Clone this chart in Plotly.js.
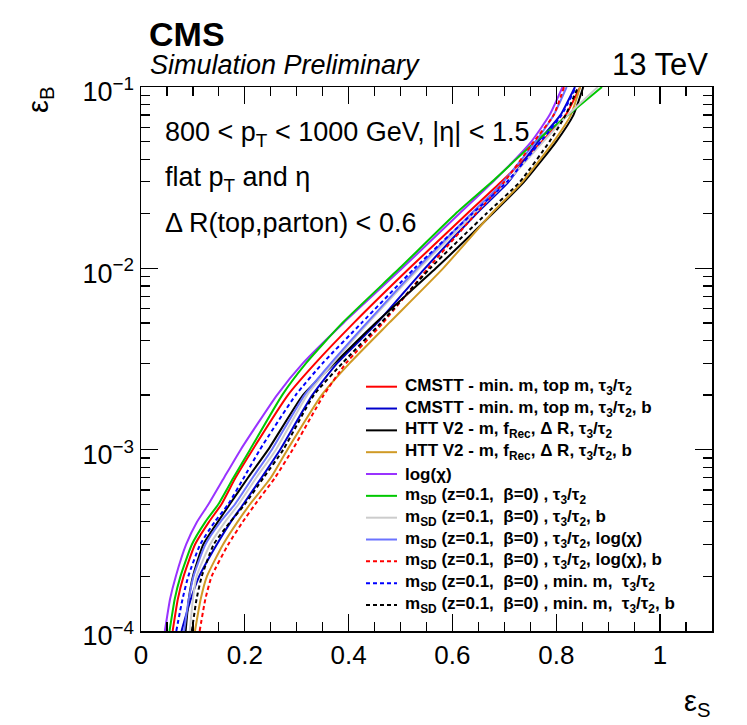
<!DOCTYPE html>
<html><head><meta charset="utf-8">
<script src="https://cdn.plot.ly/plotly-3.0.1.min.js"></script>
<style>html,body{margin:0;padding:0;background:#fff}</style>
</head><body><div id="chart" style="width:747px;height:725px"></div>
<script>
// Background efficiency levels (epsilon_B) at which the signal efficiency was read
const effB = [1e-4, 1.5e-4, 2e-4, 3e-4, 4e-4, 5e-4, 7e-4, 1e-3, 2e-3, 3e-3, 5e-3, 1e-2, 2e-2, 3e-2, 5e-2, 7e-2, 1e-1];
// Signal efficiency (epsilon_S) for each tagger
const cmstt      = [0.061, 0.071, 0.082, 0.104, 0.131, 0.155, 0.182, 0.215, 0.283, 0.336, 0.410, 0.517, 0.628, 0.694, 0.772, 0.818, 0.846];
const cmsttB     = [0.078, 0.096, 0.112, 0.146, 0.173, 0.197, 0.232, 0.268, 0.330, 0.378, 0.455, 0.547, 0.646, 0.708, 0.765, 0.808, 0.836];
const httV2      = [0.086, 0.092, 0.100, 0.120, 0.148, 0.171, 0.206, 0.245, 0.312, 0.373, 0.452, 0.568, 0.677, 0.738, 0.800, 0.833, 0.852];
const httV2B     = [0.104, 0.115, 0.127, 0.158, 0.186, 0.210, 0.250, 0.282, 0.348, 0.402, 0.478, 0.582, 0.675, 0.735, 0.795, 0.828, 0.846];
const logChi     = [0.046, 0.056, 0.067, 0.087, 0.108, 0.130, 0.160, 0.192, 0.262, 0.312, 0.390, 0.503, 0.613, 0.678, 0.752, 0.787, 0.812];
const msdTau     = [0.055, 0.065, 0.076, 0.098, 0.124, 0.149, 0.178, 0.210, 0.272, 0.318, 0.388, 0.498, 0.606, 0.676, 0.760, 0.823, 0.888];
const msdTauB    = [0.094, 0.100, 0.107, 0.133, 0.162, 0.188, 0.222, 0.260, 0.320, 0.370, 0.438, 0.536, 0.642, 0.705, 0.775, 0.822, 0.880];
const msdTauChi  = [0.083, 0.092, 0.101, 0.124, 0.153, 0.181, 0.215, 0.252, 0.315, 0.366, 0.435, 0.532, 0.636, 0.698, 0.760, 0.795, 0.820];
const msdTauChiB = [0.113, 0.124, 0.136, 0.168, 0.196, 0.220, 0.258, 0.292, 0.352, 0.395, 0.466, 0.553, 0.645, 0.700, 0.757, 0.795, 0.815];
const msdMinTau  = [0.068, 0.080, 0.091, 0.114, 0.142, 0.168, 0.198, 0.229, 0.298, 0.350, 0.425, 0.527, 0.638, 0.705, 0.770, 0.810, 0.838];
const msdMinTauB = [0.098, 0.107, 0.117, 0.140, 0.172, 0.200, 0.236, 0.274, 0.333, 0.388, 0.462, 0.557, 0.665, 0.730, 0.787, 0.818, 0.842];

const seriesNames = [
  "CMSTT - min. m, top m, τ<sub>3</sub>/τ<sub>2</sub>",
  "CMSTT - min. m, top m, τ<sub>3</sub>/τ<sub>2</sub>, b",
  "HTT V2 - m, f<sub>Rec</sub>, Δ R, τ<sub>3</sub>/τ<sub>2</sub>",
  "HTT V2 - m, f<sub>Rec</sub>, Δ R, τ<sub>3</sub>/τ<sub>2</sub>, b",
  "log(χ)",
  "m<sub>SD</sub> (z=0.1,  β=0) , τ<sub>3</sub>/τ<sub>2</sub>",
  "m<sub>SD</sub> (z=0.1,  β=0) , τ<sub>3</sub>/τ<sub>2</sub>, b",
  "m<sub>SD</sub> (z=0.1,  β=0) , τ<sub>3</sub>/τ<sub>2</sub>, log(χ)",
  "m<sub>SD</sub> (z=0.1,  β=0) , τ<sub>3</sub>/τ<sub>2</sub>, log(χ), b",
  "m<sub>SD</sub> (z=0.1,  β=0) , min. m,  τ<sub>3</sub>/τ<sub>2</sub>",
  "m<sub>SD</sub> (z=0.1,  β=0) , min. m,  τ<sub>3</sub>/τ<sub>2</sub>, b"
];
const seriesData = [cmstt, cmsttB, httV2, httV2B, logChi, msdTau, msdTauB, msdTauChi, msdTauChiB, msdMinTau, msdMinTauB];

const xTickVals = [0, 0.2, 0.4, 0.6, 0.8, 1];
const xTickText = ["0", "0.2", "0.4", "0.6", "0.8", "1"];
const yTickVals = [1e-4, 1e-3, 1e-2, 1e-1];
const yTickText = ["10<sup>−4</sup>", "10<sup>−3</sup>", "10<sup>−2</sup>", "10<sup>−1</sup>"];
const yMinorVals = [];
[1e-4, 1e-3, 1e-2].forEach(d => { for (let k = 2; k <= 9; k++) yMinorVals.push(k * d); });

// styles
const colors = ["#ff0000", "#0000cc", "#000000", "#d09a25", "#9933ff", "#00c800", "#cccccc", "#6b73ff", "#ff0000", "#0000ff", "#000000"];
const dashes = ["solid", "solid", "solid", "solid", "solid", "solid", "solid", "solid", "4px,3px", "4px,3px", "4px,3px"];

const W = 747, H = 725, L = 141, R = 35, T = 87, B = 94;
const pw = W - L - R, ph = H - T - B;
const px2x = p => (p - L) / pw;
const py2y = p => (H - B - p) / ph;

const traces = seriesData.map((xs, i) => ({
  x: xs, y: effB, type: "scatter", mode: "lines", name: seriesNames[i],
  line: {color: colors[i], width: 2, dash: dashes[i], shape: "spline", smoothing: 0.5},
  showlegend: false, hoverinfo: "skip"
}));

const font = "Liberation Sans, Arial, Helvetica, sans-serif";
const annotations = [];
const shapes = [];
function ann(text, px, py, size, opts) {
  annotations.push(Object.assign({
    text: text, xref: "paper", yref: "paper", x: px2x(px), y: py2y(py),
    xanchor: "left", yanchor: "middle", showarrow: false,
    font: {family: font, size: size, color: "#000"}
  }, opts || {}));
}
ann("CMS", 147, 34, 34, {font: {family: font, size: 34, color: "#000", weight: "bold"}});
ann("<i>Simulation Preliminary</i>", 148, 65, 27);
ann("13 TeV", 710, 64, 31, {xanchor: "right"});
ann("800 &lt; p<sub>T</sub> &lt; 1000 GeV, |η| &lt; 1.5", 163, 134, 27);
ann("flat p<sub>T</sub> and η", 163, 179, 27);
ann("Δ R(top,parton) &lt; 0.6", 163, 223, 27);
ann("ε<sub>B</sub>", 40, 100, 29, {xanchor: "center", textangle: -90});
ann("ε<sub>S</sub>", 697, 703, 29, {xanchor: "center"});

// legend drawn by hand to match the reference row spacing
const legTop = 386.7, legStep = 21.83;
seriesNames.forEach((nm, i) => {
  const py = legTop + i * legStep;
  shapes.push({type: "line", xref: "paper", yref: "paper",
    x0: px2x(366), x1: px2x(397), y0: py2y(py), y1: py2y(py),
    line: {color: colors[i], width: 2, dash: dashes[i]}});
  ann(nm, 403, py, 17, {font: {family: font, size: 17, color: "#000", weight: "bold"}});
});

const layout = {
  width: W, height: H, autosize: false,
  margin: {l: L, r: R, t: T, b: B, pad: 0},
  paper_bgcolor: "#fff", plot_bgcolor: "#fff",
  showlegend: false,
  font: {family: font, color: "#000"},
  xaxis: {
    range: [0, 1.1], tickmode: "array", tickvals: xTickVals, ticktext: xTickText,
    ticks: "inside", ticklen: 17, tickwidth: 1.2, tickcolor: "#000",
    showline: true, linecolor: "#000", linewidth: 1.5, mirror: "ticks",
    showgrid: false, zeroline: false,
    tickfont: {family: font, size: 26, color: "#000"},
    minor: {tickmode: "linear", tick0: 0, dtick: 0.05, ticks: "inside", ticklen: 9, tickwidth: 1.2, tickcolor: "#000", showgrid: false}
  },
  yaxis: {
    type: "log", range: [-4, -1], tickmode: "array", tickvals: yTickVals, ticktext: yTickText,
    ticks: "inside", ticklen: 17, tickwidth: 1.2, tickcolor: "#000",
    showline: true, linecolor: "#000", linewidth: 1.5, mirror: "ticks",
    showgrid: false, zeroline: false, ticklabelshift: 5,
    tickfont: {family: font, size: 27, color: "#000"},
    minor: {tickmode: "array", tickvals: yMinorVals, ticks: "inside", ticklen: 9, tickwidth: 1.2, tickcolor: "#000", showgrid: false}
  },
  annotations: annotations,
  shapes: shapes
};

Plotly.newPlot("chart", traces, layout, {staticPlot: true, displayModeBar: false});
</script>
</body></html>
